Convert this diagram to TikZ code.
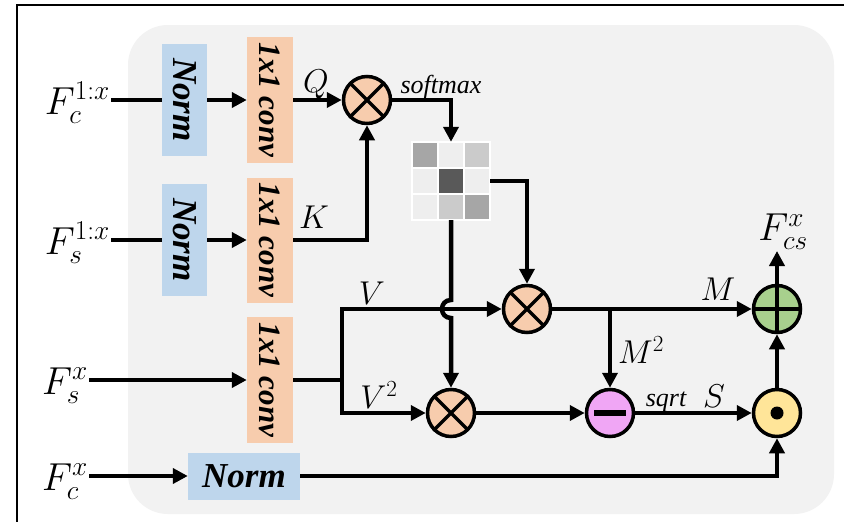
\RequirePackage{fix-cm}
\documentclass[tikz,border=0pt]{standalone}
\usepackage{graphicx}
\usepackage{fontspec}
\setmainfont{Liberation Serif}
\usetikzlibrary{arrows.meta}
\definecolor{normblue}{RGB}{190,214,236}
\definecolor{convorange}{RGB}{247,204,173}
\definecolor{bggray}{RGB}{242,242,242}
\definecolor{plusgreen}{RGB}{168,208,141}
\definecolor{minuspink}{RGB}{240,166,245}
\definecolor{dotyellow}{RGB}{255,229,153}
\definecolor{gA}{RGB}{166,166,166}
\definecolor{gB}{RGB}{238,238,238}
\definecolor{gC}{RGB}{203,203,203}
\definecolor{gD}{RGB}{89,89,89}
\begin{document}
\begin{tikzpicture}[x=1pt,y=-1pt,
  wire/.style={line width=4.5pt},
  arr/.style={wire,-{Triangle[length=15pt,width=15pt]}},
  normbox/.style={fill=normblue,inner sep=0pt,font=\fontsize{35}{40}\selectfont\bfseries\itshape},
  convbox/.style={fill=convorange,inner sep=0pt,font=\fontsize{31}{36}\selectfont\bfseries\itshape},
  opc/.style={circle,draw,line width=3.5pt,minimum size=47pt,inner sep=0pt},
  crossline/.style={line width=3.5pt,shorten >=1.5pt,shorten <=1.5pt},
  flabel/.style={inner sep=1pt,font=\fontsize{39}{44}\selectfont},
  lab/.style={inner sep=0pt,anchor=base,font=\fontsize{33}{38}\selectfont},
  smalllab/.style={inner sep=0pt,anchor=base,font=\fontsize{26}{30}\selectfont\itshape}
]
\useasboundingbox (0,0) rectangle (844,522);
\fill[white] (0,0) rectangle (844,522);
\draw[line width=2pt] (17,522) -- (17,5) -- (844,5);
\fill[bggray, rounded corners=40pt] (128,25) rectangle (834,514);

% boxes
\node[normbox,minimum width=45pt,minimum height=112pt] (n1) at (184.5,100) {\rotatebox{-90}{Norm}};
\node[convbox,minimum width=46pt,minimum height=126pt] (c1) at (270,100) {\rotatebox{-90}{1x1 conv}};
\node[normbox,minimum width=45pt,minimum height=112pt] (n2) at (184.5,240) {\rotatebox{-90}{Norm}};
\node[convbox,minimum width=46pt,minimum height=125pt] (c2) at (270,240) {\rotatebox{-90}{1x1 conv}};
\node[convbox,minimum width=46pt,minimum height=126pt] (c3) at (270,380) {\rotatebox{-90}{1x1 conv}};
\node[normbox,minimum width=112pt,minimum height=47pt] (n3) at (244,476) {Norm};

% input labels
\node[flabel,anchor=base east] (Fc1) at (111,114) {$F_c^{1:x}$};
\node[flabel,anchor=base east] (Fs1) at (111,254) {$F_s^{1:x}$};
\node[flabel,anchor=base east] (Fsx) at (89,394) {$F_s^{x}$};
\node[flabel,anchor=base east] (Fcx) at (89,490) {$F_c^{x}$};
\node[flabel,anchor=south] (Fcs) at (783,251) {$F_{cs}^{x}$};

% operator circles
\node[opc,fill=convorange] (Qx) at (367,100) {};
\draw[crossline] (Qx.north east) -- (Qx.south west) (Qx.north west) -- (Qx.south east);
\node[opc,fill=convorange] (Mx) at (527,309) {};
\draw[crossline] (Mx.north east) -- (Mx.south west) (Mx.north west) -- (Mx.south east);
\node[opc,fill=convorange] (Lx) at (451,413) {};
\draw[crossline] (Lx.north east) -- (Lx.south west) (Lx.north west) -- (Lx.south east);
\node[opc,fill=minuspink] (Mn) at (610,413) {};
\draw[line width=6pt] ([xshift=-16pt]Mn.center) -- ([xshift=16pt]Mn.center);
\node[opc,fill=plusgreen] (Pl) at (777,309) {};
\draw[crossline] (Pl.north) -- (Pl.south) (Pl.west) -- (Pl.east);
\node[opc,fill=dotyellow] (Dt) at (777,413) {};
\fill (Dt.center) circle (6.5pt);

% attention map
\node[minimum size=78pt,inner sep=0pt] (A) at (451,181) {};
\begin{scope}[draw=white,line width=2pt]
\filldraw[fill=gA] (412,142) rectangle +(26,26);
\filldraw[fill=gB] (438,142) rectangle +(26,26);
\filldraw[fill=gC] (464,142) rectangle +(26,26);
\filldraw[fill=gB] (412,168) rectangle +(26,26);
\filldraw[fill=gD] (438,168) rectangle +(26,26);
\filldraw[fill=gB] (464,168) rectangle +(26,26);
\filldraw[fill=gB] (412,194) rectangle +(26,26);
\filldraw[fill=gC] (438,194) rectangle +(26,26);
\filldraw[fill=gA] (464,194) rectangle +(26,26);
\end{scope}

% connectors
\draw[wire] (Fc1.east |- n1.west) -- (n1.west);
\draw[arr] (n1.east) -- (c1.west);
\draw[arr] (c1.east) -- (Qx.west);
\draw[wire] (Fs1.east |- n2.west) -- (n2.west);
\draw[arr] (n2.east) -- (c2.west);
\draw[arr] (c2.east) -| (Qx.south);
\draw[arr] (Qx.east) -| (A.north);
\draw[arr] (A.east) -| (Mx.north);
\draw[arr] (A.south) -- (451,300) .. controls (439,300) and (439,318) .. (451,318) -- (Lx.north);
\coordinate (vt) at (342,309);
\coordinate (vb) at (342,413);
\draw[wire] (c3.east) -- (c3.east -| vt);
\draw[arr] (vb) -- (vt) -- (Mx.west);
\draw[arr] (vt) -- (vb) -- (Lx.west);
\draw[arr] (Mx.east) -- (Pl.west);
\draw[arr] (Mx -| Mn) -- (Mn.north);
\draw[arr] (Lx.east) -- (Mn.west);
\draw[arr] (Mn.east) -- (Dt.west);
\draw[arr] (Dt.north) -- (Pl.south);
\draw[arr] (Pl.north) -- (Pl.north |- Fcs.south);
\draw[arr] (Fsx.east |- c3.west) -- (c3.west);
\draw[arr] (Fcx.east |- n3.west) -- (n3.west);
\draw[arr] (n3.east) -| (Dt.south);

% labels
\node[lab] (lQ) at (316,92) {$Q$};
\node[lab] (lK) at (314,228) {$K$};
\node[smalllab] (lsm) at (441,93) {softmax};
\node[lab] (lV) at (372,304) {$V$};
\node[lab] (lV2) at (379,408) {$V^2$};
\node[lab] (lM) at (718,300) {$M$};
\node[lab] (lM2) at (641,363) {$M^2$};
\node[smalllab] (lsq) at (666,406) {sqrt};
\node[lab] (lS) at (714,407) {$S$};
\end{tikzpicture}
\end{document}
